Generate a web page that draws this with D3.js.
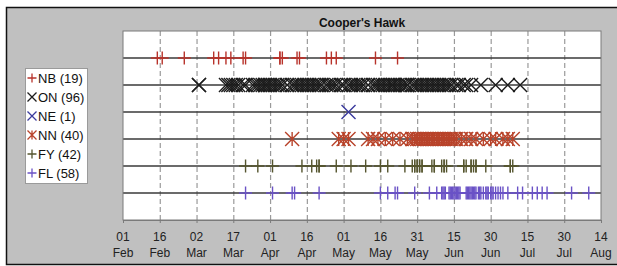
<!DOCTYPE html>
<html><head><meta charset="utf-8">
<script src="https://cdn.jsdelivr.net/npm/d3@7"></script>
<style>html,body{margin:0;padding:0;background:#fff;}svg{display:block;}</style>
</head><body>
<script>
// ---- data (days since 01 Feb, leap year) ----
const tickDays = [0,15,30,45,60,75,90,105,120,135,150,165,180,195];
const tickDayLabels = ["01","16","02","17","01","16","01","16","31","15","30","15","30","14"];
const tickMonthLabels = ["Feb","Feb","Mar","Mar","Apr","Apr","May","May","May","Jun","Jun","Jul","Jul","Aug"];

const seriesNames = ["NB","ON","NE","NN","FY","FL"];
const seriesCounts = [19,96,1,40,42,58];
const seriesColors = ["#b8332b","#1c1c1c","#3b3b9e","#b8432a","#55552e","#6a52c6"];
const seriesMarkers = ["plus","x","x","star","plus","plus"];

const nbDays = [14,16,25,37,39,42,44,49,50,64,64,65,71,72,83,85,87,103,112];
const onDays = [31,31,
  42,43,44,45,46,47,49,50,
  53,54,55,56,57,58,58,59,60,61,62,63,64,65,
  67,69,70,71,72,73,74,75,76,77,78,79,80,81,83,84,85,86,87,89,
  90,92,93,94,95,96,97,98,100,102,
  103,104,105,106,107,108,109,110,110,111,112,113,114,115,116,116,
  118,119,120,121,122,123,124,125,126,127,128,129,130,131,132,133,134,136,137,139,140,142,
  146,152,157,162];
const neDays = [92];
const nnDays = [69,88,90,92,100,102,104,107,110,113,116,
  118,119,120,121,122,123,124,125,126,127,128,129,130,131,132,133,134,135,136,138,140,142,144,147,150,152,155,157,159];
const fyDays = [50,55,61,73,77,79,80,80,87,93,99,105,108,115,118,119,119,120,120,121,121,122,122,126,127,127,130,131,131,132,139,139,140,142,142,143,144,144,148,158,158,159];
const flDays = [50,61,69,70,80,105,108,111,112,119,125,128,130,131,133,134,135,136,137,140,141,142,143,144,145,147,148,149,150,152,153,155,157,161,163,167,169,171,173,183,190,
  130.5,131.5,133.5,134.5,135.5,136.5,137.5,140.5,141.5,142.5,143.5,145.5,146,148.5,150.5,151,154];
const seriesDays = [nbDays,onDays,neDays,nnDays,fyDays,flDays];

const W = 617, H = 266;
const svg = d3.select("body").append("svg").attr("width",W).attr("height",H)
  .style("font-family","'Liberation Sans', Arial, sans-serif");

// outer panel
svg.append("rect").attr("x",0).attr("y",0).attr("width",W).attr("height",H).attr("fill","#fff");
svg.append("rect").attr("x",6.5).attr("y",7.5).attr("width",W+10).attr("height",257).attr("fill","#c0c0c0").attr("stroke","#111").attr("stroke-width",1.5);

const x = d3.scaleLinear().domain([0,195]).range([123,601]);
const y = d3.scaleLinear().domain([0,7]).range([31,220]);

// plot area
svg.append("rect").attr("x",x(0)).attr("y",y(0)).attr("width",x(195)-x(0)).attr("height",y(7)-y(0))
  .attr("fill","#fff");

// vertical dashed gridlines
svg.append("g").selectAll("line").data(tickDays.slice(1,-1)).join("line")
  .attr("x1",d=>x(d)+0.5).attr("x2",d=>x(d)+0.5).attr("y1",y(0)).attr("y2",y(7))
  .attr("stroke","#9a9a9a").attr("stroke-width",1.2).attr("stroke-dasharray","5,3");

// horizontal row lines
svg.append("g").selectAll("line").data(d3.range(1,7)).join("line")
  .attr("x1",x(0)).attr("x2",x(195)).attr("y1",d=>y(d)).attr("y2",d=>y(d))
  .attr("stroke","#3a3a3a").attr("stroke-width",1.6);

// plot border
svg.append("rect").attr("x",x(0)).attr("y",y(0)).attr("width",x(195)-x(0)).attr("height",y(7)-y(0))
  .attr("fill","none").attr("stroke","#7a7a7a").attr("stroke-width",1);

// x axis
const axis = d3.axisBottom(x).tickValues(tickDays).tickSize(3).tickFormat("");
const ag = svg.append("g").attr("transform",`translate(0,${y(7)})`).call(axis);
ag.select(".domain").attr("stroke","#7a7a7a");
ag.selectAll(".tick line").attr("stroke","#7a7a7a");
const lab = svg.append("g").attr("font-size",12).attr("fill","#222").attr("text-anchor","middle");
lab.selectAll("text.d").data(tickDays).join("text").attr("class","d")
  .attr("x",d=>x(d)).attr("y",241).text((d,i)=>tickDayLabels[i]);
lab.selectAll("text.m").data(tickDays).join("text").attr("class","m")
  .attr("x",d=>x(d)).attr("y",257).text((d,i)=>tickMonthLabels[i]);

// title
svg.append("text").attr("x",(x(0)+x(195))/2).attr("y",27).attr("text-anchor","middle")
  .attr("font-size",12).attr("font-weight","bold").attr("fill","#111").text("Cooper's Hawk");

// marker drawing
function markerPath(type, s){
  if(type==="plus") return `M${-s},0H${s}M0,${-s}V${s}`;
  if(type==="x") return `M${-s},${-s}L${s},${s}M${-s},${s}L${s},${-s}`;
  if(type==="star") return `M${-s},${-s}L${s},${s}M${-s},${s}L${s},${-s}M0,${-s}V${s}`;
}
const markSize = [6.5,7,7,7,6.5,6.5];
const mg = svg.append("g");
seriesDays.forEach((days,i)=>{
  mg.append("g").selectAll("path").data(days).join("path")
    .attr("transform",d=>`translate(${x(d)},${y(i+1)})`)
    .attr("d",markerPath(seriesMarkers[i],markSize[i]))
    .attr("fill","none").attr("stroke",seriesColors[i]).attr("stroke-width",1.4);
});

// legend
const lg = svg.append("g");
lg.append("rect").attr("x",25.5).attr("y",68.5).attr("width",62).attr("height",115)
  .attr("fill","#fff").attr("stroke","#9a9a9a");
seriesNames.forEach((n,i)=>{
  const cy = 78 + i*19;
  lg.append("path").attr("transform",`translate(32,${cy})`)
    .attr("d",markerPath(seriesMarkers[i],4.5)).attr("fill","none")
    .attr("stroke",seriesColors[i]).attr("stroke-width",1.3);
  lg.append("text").attr("x",38).attr("y",cy+4.5).attr("font-size",13).attr("fill","#111")
    .text(`${n} (${seriesCounts[i]})`);
});
</script>
</body></html>
